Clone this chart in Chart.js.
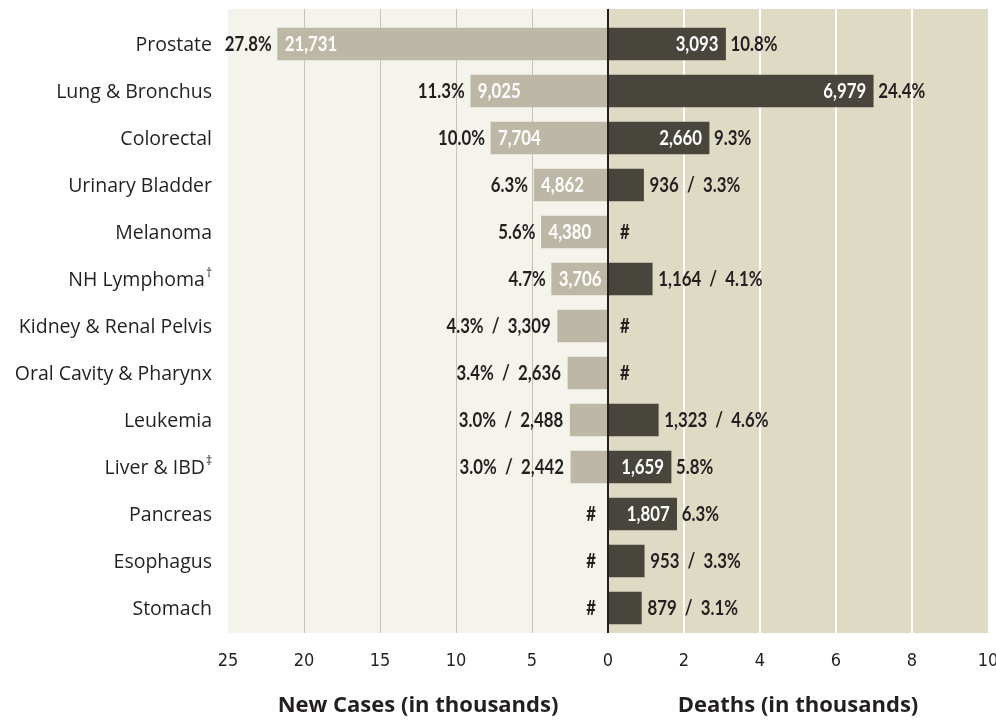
<!DOCTYPE html>
<html>
<head>
<meta charset="utf-8">
<style>
  html, body { margin: 0; padding: 0; background: #ffffff; }
  #wrap { width: 996px; height: 721px; }
</style>
<script src="https://cdn.jsdelivr.net/npm/chart.js@4.4.1/dist/chart.umd.min.js"></script>
</head>
<body>
<div id="wrap"><canvas id="chart" width="996" height="721"></canvas></div>
<script>
// Chart data
const sites = ['Prostate', 'Lung & Bronchus', 'Colorectal', 'Urinary Bladder', 'Melanoma', 'NH Lymphoma',
    'Kidney & Renal Pelvis', 'Oral Cavity & Pharynx', 'Leukemia', 'Liver & IBD', 'Pancreas', 'Esophagus', 'Stomach'];
const siteMarks = ['', '', '', '', '', '†', '', '', '', '‡', '', '', ''];
const newCases = [21731, 9025, 7704, 4862, 4380, 3706, 3309, 2636, 2488, 2442, null, null, null];
const newCasesPct = [27.8, 11.3, 10.0, 6.3, 5.6, 4.7, 4.3, 3.4, 3.0, 3.0, null, null, null];
const deaths = [3093, 6979, 2660, 936, null, 1164, null, null, 1323, 1659, 1807, 953, 879];
const deathsPct = [10.8, 24.4, 9.3, 3.3, null, 4.1, null, null, 4.6, 5.8, 6.3, 3.3, 3.1];
const casesTicks = [0, 5, 10, 15, 20, 25];
const deathsTicks = [0, 2, 4, 6, 8, 10];

const DARK = '#231f20';
const CASES_COLOR = '#bdb8a6';
const DEATHS_COLOR = '#48453d';
const VALUE_FONT = 'bold 21px Lato, sans-serif';
const SQUEEZE = 0.8;    // horizontal squeeze for the condensed value labels
const INSIDE_MIN = 54;  // bar width (px) needed to put the count inside

const toThousands = v => (v === null ? null : v / 1000);
const fmt = v => v.toLocaleString('en-US');

function squeezedText(ctx, text, x, y, align, color) {
    ctx.save();
    ctx.translate(x, y);
    ctx.scale(SQUEEZE, 1);
    ctx.font = VALUE_FONT;
    ctx.textAlign = align;
    ctx.textBaseline = 'middle';
    ctx.fillStyle = color;
    ctx.fillText(text, 0, 0);
    ctx.restore();
}

// Panels, grid lines and centre line
const panelPlugin = {
    id: 'panels',
    beforeDraw(chart) {
        const { ctx, chartArea } = chart;
        const xc = chart.scales.xCases;
        const xd = chart.scales.xDeaths;
        const top = chartArea.top - 11.5;
        const bottom = chartArea.bottom + 1.5;
        ctx.save();
        ctx.fillStyle = '#f5f4ec';
        ctx.fillRect(xc.left, top, xc.right - xc.left, bottom - top);
        ctx.fillStyle = '#dedac4';
        ctx.fillRect(xd.left, top, xd.right - xd.left, bottom - top);

        ctx.strokeStyle = '#c7c2b0';
        ctx.lineWidth = 1;
        casesTicks.slice(1, -1).forEach(v => {
            const x = Math.round(xc.getPixelForValue(v)) + 0.5;
            ctx.beginPath();
            ctx.moveTo(x, top);
            ctx.lineTo(x, bottom);
            ctx.stroke();
        });
        ctx.strokeStyle = '#ffffff';
        ctx.lineWidth = 2;
        deathsTicks.slice(1, -1).forEach(v => {
            const x = Math.round(xd.getPixelForValue(v));
            ctx.beginPath();
            ctx.moveTo(x, top);
            ctx.lineTo(x, bottom);
            ctx.stroke();
        });
        ctx.restore();
    },
    afterDatasetsDraw(chart) {
        const { ctx, chartArea } = chart;
        const x = chart.scales.xDeaths.getPixelForValue(0);
        ctx.save();
        ctx.strokeStyle = DARK;
        ctx.lineWidth = 2;
        ctx.beginPath();
        ctx.moveTo(x, chartArea.top - 11.5);
        ctx.lineTo(x, chartArea.bottom + 1.5);
        ctx.stroke();
        ctx.restore();
    }
};

// Category names (with superscript marks) and value labels
const labelPlugin = {
    id: 'labels',
    afterDraw(chart) {
        const { ctx } = chart;
        const yScale = chart.scales.y;
        const zero = chart.scales.xCases.getPixelForValue(0);
        const casesMeta = chart.getDatasetMeta(0);
        const deathsMeta = chart.getDatasetMeta(1);
        ctx.save();
        ctx.textBaseline = 'middle';

        sites.forEach((name, i) => {
            const y = yScale.getPixelForValue(i);

            // category name
            const right = yScale.right - 16;
            ctx.fillStyle = DARK;
            ctx.textAlign = 'left';
            ctx.font = "12px 'Open Sans', sans-serif";
            const markW = siteMarks[i] ? ctx.measureText(siteMarks[i]).width + 1 : 0;
            ctx.font = "19.5px 'Open Sans', sans-serif";
            const nameW = ctx.measureText(name).width;
            ctx.fillText(name, right - markW - nameW, y + 1);
            if (siteMarks[i]) {
                ctx.font = "12px 'Open Sans', sans-serif";
                ctx.fillText(siteMarks[i], right - markW + 1, y - 5);
            }

            // new cases
            if (newCases[i] === null) {
                squeezedText(ctx, '#', zero - 12, y, 'right', DARK);
            } else {
                const end = casesMeta.data[i].x;
                const num = fmt(newCases[i]);
                const pct = newCasesPct[i].toFixed(1) + '%';
                if (zero - end >= INSIDE_MIN) {
                    squeezedText(ctx, num, end + 7, y, 'left', '#ffffff');
                    squeezedText(ctx, pct, end - 6, y, 'right', DARK);
                } else {
                    squeezedText(ctx, pct + '  /  ' + num, end - 7, y, 'right', DARK);
                }
            }

            // deaths
            if (deaths[i] === null) {
                squeezedText(ctx, '#', zero + 12, y, 'left', DARK);
            } else {
                const end = deathsMeta.data[i].x;
                const num = fmt(deaths[i]);
                const pct = deathsPct[i].toFixed(1) + '%';
                if (end - zero >= INSIDE_MIN) {
                    squeezedText(ctx, num, end - 7, y, 'right', '#ffffff');
                    squeezedText(ctx, pct, end + 5, y, 'left', DARK);
                } else {
                    squeezedText(ctx, num + '  /  ' + pct, end + 6, y, 'left', DARK);
                }
            }
        });
        ctx.restore();
    }
};

const tickFont = { family: "'DejaVu Sans Condensed', sans-serif", size: 18 };
const titleFont = { family: "'Open Sans', sans-serif", size: 22, weight: 'bold' };
const noSidePadding = s => { s.height = 89.5; s.paddingLeft = 0; s.paddingRight = 0; };

const ctx = document.getElementById('chart').getContext('2d');
const chart = new Chart(ctx, {
    type: 'bar',
    data: {
        labels: sites,
        datasets: [
            {
                label: 'New Cases',
                data: newCases.map(toThousands),
                xAxisID: 'xCases',
                backgroundColor: CASES_COLOR,
                grouped: false,
                barThickness: 32
            },
            {
                label: 'Deaths',
                data: deaths.map(toThousands),
                xAxisID: 'xDeaths',
                backgroundColor: DEATHS_COLOR,
                grouped: false,
                barThickness: 32
            }
        ]
    },
    options: {
        indexAxis: 'y',
        responsive: false,
        animation: false,
        layout: { padding: { top: 20.5, right: 8, bottom: 0, left: 0 } },
        plugins: {
            legend: { display: false },
            tooltip: { enabled: false }
        },
        scales: {
            y: {
                type: 'category',
                grid: { display: false, drawTicks: false },
                border: { display: false },
                ticks: { display: false },
                afterFit: s => { s.width = 228; }
            },
            xCases: {
                type: 'linear',
                position: 'bottom',
                stack: 'x',
                stackWeight: 1,
                reverse: true,
                min: 0,
                max: 25,
                afterBuildTicks: s => { s.ticks = casesTicks.map(v => ({ value: v })); },
                grid: { display: false, drawTicks: false },
                border: { display: false },
                ticks: { font: tickFont, color: DARK, padding: 19, maxRotation: 0 },
                title: { display: true, text: 'New Cases (in thousands)', font: titleFont, color: DARK, padding: { top: 0, bottom: 2 } },
                afterFit: noSidePadding
            },
            xDeaths: {
                type: 'linear',
                position: 'bottom',
                stack: 'x',
                stackWeight: 1,
                min: 0,
                max: 10,
                afterBuildTicks: s => { s.ticks = deathsTicks.map(v => ({ value: v })); },
                grid: { display: false, drawTicks: false },
                border: { display: false },
                ticks: {
                    font: tickFont, color: DARK, padding: 19, maxRotation: 0,
                    callback: v => (v === 0 ? '' : v)
                },
                title: { display: true, text: 'Deaths (in thousands)', font: titleFont, color: DARK, padding: { top: 0, bottom: 2 } },
                afterFit: noSidePadding
            }
        }
    },
    plugins: [panelPlugin, labelPlugin]
});
</script>
</body>
</html>
